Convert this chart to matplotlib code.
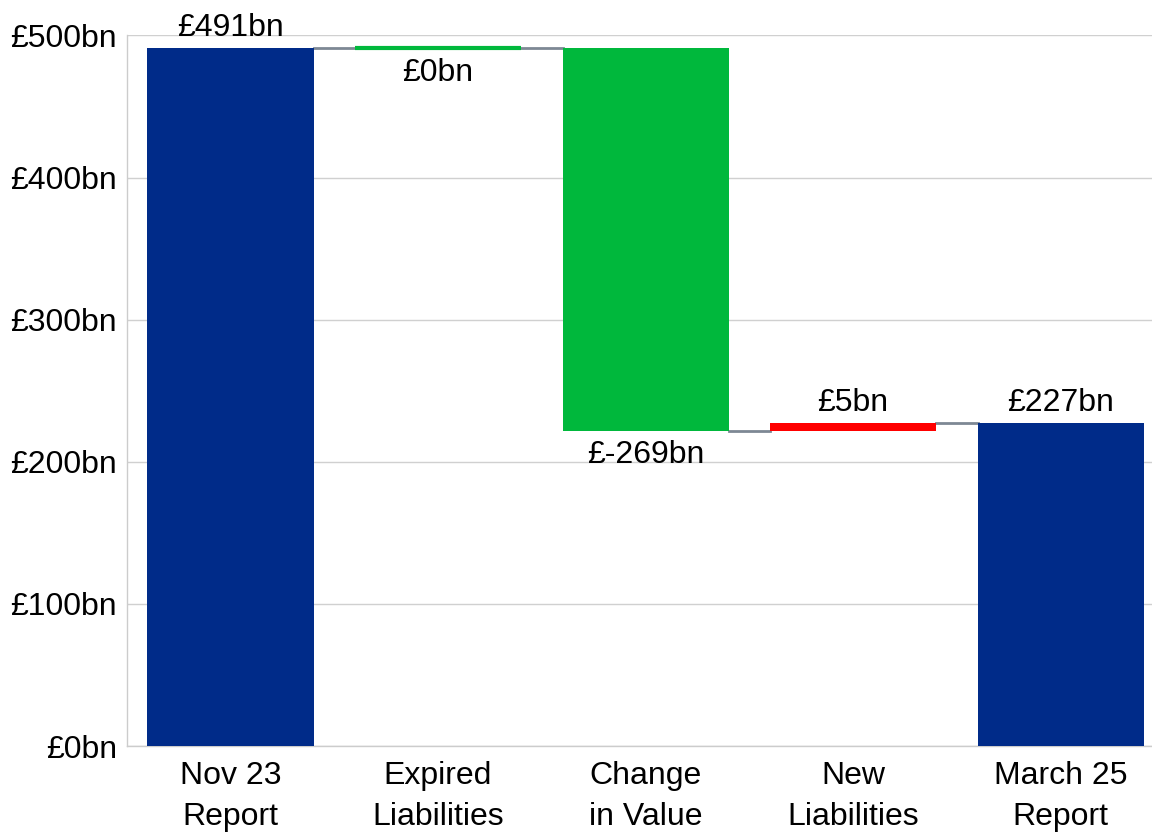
import matplotlib.pyplot as plt

# waterfall of liabilities between the two reports (£bn)
categories = ["Nov 23\nReport", "Expired\nLiabilities", "Change\nin Value", "New\nLiabilities", "March 25\nReport"]
steps = [491, 0, -269, 5, 227]
kinds = ["total", "delta", "delta", "delta", "total"]

navy = "#002b89"
green = "#00b83c"
red = "#ff0000"

plt.rcParams["font.family"] = ["Liberation Sans", "DejaVu Sans"]

fig = plt.figure(figsize=(11.52, 8.34), dpi=100)
ax = fig.add_axes([0.110, 0.1055, 0.890, 0.852])

width = 0.8
running = 0
levels = []
for i, (val, kind) in enumerate(zip(steps, kinds)):
    if kind == "total":
        bottom, height = 0, val
        color = navy
        running = val
    else:
        bottom, height = running, val
        color = green if val <= 0 else red
        running += val
    ax.bar(i, height, bottom=bottom, width=width, color=color,
           edgecolor=color, linewidth=3 if val == 0 else 0, zorder=3)
    levels.append(running)

    # value labels: above the top for rises, below the bottom for falls
    top = max(bottom, bottom + height)
    low = min(bottom, bottom + height)
    if kind == "total" or val > 0:
        ax.text(i, top + 4, f"£{val}bn", ha="center", va="bottom", fontsize=23, clip_on=False)
    else:
        ax.text(i, low - 7, f"£{val}bn", ha="center", va="top", fontsize=23)

# connectors between neighbouring bars
for i in range(len(steps) - 1):
    ax.plot([i + width / 2, i + 1 - width / 2], [levels[i], levels[i]],
            color="#7d8894", linewidth=2, zorder=2)

ax.set_xlim(-0.5, 4.44)
ax.set_ylim(0, 500)
ax.set_yticks(range(0, 501, 100))
ax.set_yticklabels([f"£{v}bn" for v in range(0, 501, 100)])
ax.set_xticks(range(len(categories)))
ax.set_xticklabels(categories, linespacing=1.45)
ax.tick_params(axis="both", length=0, labelsize=23)
ax.tick_params(axis="y", pad=7)
ax.tick_params(axis="x", pad=11)

ax.grid(axis="y", color="#d0d0d0", linewidth=1, zorder=0)
ax.set_axisbelow(True)
for side in ["top", "right"]:
    ax.spines[side].set_visible(False)
for side in ["left", "bottom"]:
    ax.spines[side].set_color("#cccccc")
    ax.spines[side].set_linewidth(1)

fig.savefig("out.png", dpi=100)
